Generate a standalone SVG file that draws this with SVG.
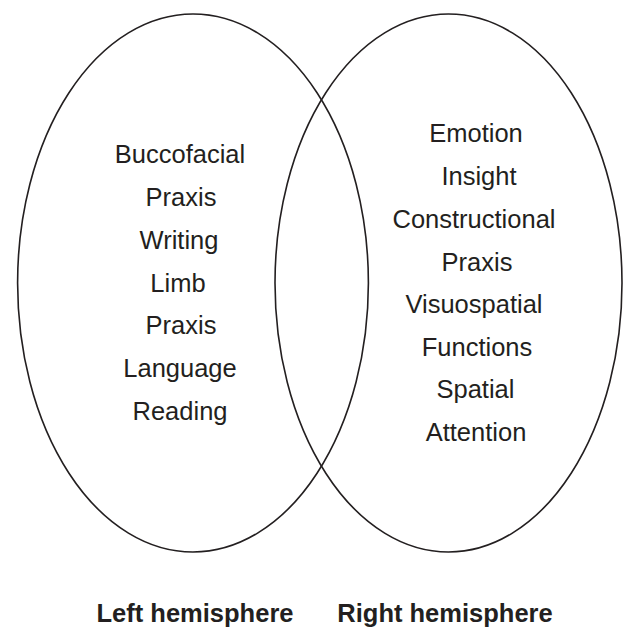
<svg xmlns="http://www.w3.org/2000/svg" width="623" height="627" viewBox="0 0 623 627">
<style>
.ell{fill:none;stroke:#231f20;stroke-width:1.6}
.t{font-family:"Liberation Sans",Arial,sans-serif;font-size:25.5px;fill:#231f20;text-anchor:middle}
.b{font-family:"Liberation Sans",Arial,sans-serif;font-size:25.5px;font-weight:bold;fill:#231f20;text-anchor:middle}
</style>
<rect width="623" height="627" fill="#fff"/>
<g id="left-hemisphere">
<ellipse class="ell" cx="193" cy="283" rx="175.4" ry="269"/>
<text class="t" x="180" y="163">Buccofacial</text>
<text class="t" x="181" y="206">Praxis</text>
<text class="t" x="179" y="249">Writing</text>
<text class="t" x="178" y="292">Limb</text>
<text class="t" x="181" y="334">Praxis</text>
<text class="t" x="180" y="377">Language</text>
<text class="t" x="180" y="420">Reading</text>
<text class="b" x="195" y="621.5">Left hemisphere</text>
</g>
<g id="right-hemisphere">
<ellipse class="ell" cx="448.5" cy="283" rx="173.5" ry="269"/>
<text class="t" x="476" y="142">Emotion</text>
<text class="t" x="479" y="185">Insight</text>
<text class="t" x="474" y="228">Constructional</text>
<text class="t" x="477" y="271">Praxis</text>
<text class="t" x="474" y="313">Visuospatial</text>
<text class="t" x="477" y="356">Functions</text>
<text class="t" x="475.5" y="398">Spatial</text>
<text class="t" x="476" y="441">Attention</text>
<text class="b" x="445" y="621.5">Right hemisphere</text>
</g>
<g id="connectors"></g>
</svg>
